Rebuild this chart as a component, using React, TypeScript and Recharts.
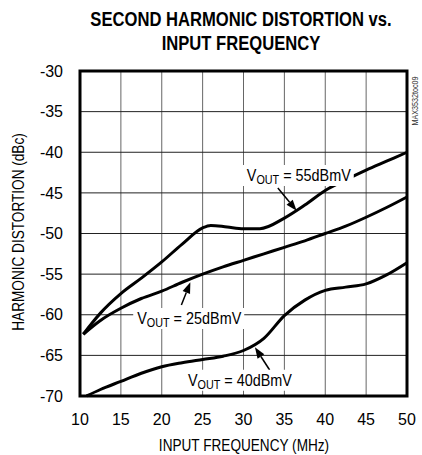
import {
  LineChart,
  Line,
  XAxis,
  YAxis,
  CartesianGrid,
  ReferenceArea,
  ReferenceLine,
  ReferenceDot,
} from 'recharts'

const FONT = "'Liberation Sans', Arial, sans-serif"

const FREQ_TICKS = [10, 15, 20, 25, 30, 35, 40, 45, 50]
const HD_TICKS = [-70, -65, -60, -55, -50, -45, -40, -35, -30]

// VOUT = 55dBmV
const FREQ_55 = [10.4, 12.5, 15, 17.5, 20, 22.5, 25, 26, 28, 30, 32, 35, 37.5, 40, 42.5, 45, 47.5, 50]
const HD2_55 = [-62.4, -59.8, -57.4, -55.5, -53.5, -51.3, -49.3, -49.0, -49.2, -49.4, -49.4, -48.1, -46.5, -44.7, -43.4, -42.2, -41.1, -40.0]

// VOUT = 25dBmV
const FREQ_25 = [10.4, 12.5, 15, 17.5, 20, 22.5, 25, 27.5, 30, 32.5, 35, 37.5, 40, 42.5, 45, 47.5, 50]
const HD2_25 = [-62.4, -60.7, -59.2, -58.0, -57.1, -56.0, -55.0, -54.1, -53.3, -52.5, -51.7, -50.9, -50.0, -49.1, -48.0, -46.8, -45.5]

// VOUT = 40dBmV
const FREQ_40 = [10.8, 12.5, 15, 17.5, 20, 22.5, 25, 27.5, 30, 32.5, 35, 37.5, 40, 42.5, 45, 47.5, 50]
const HD2_40 = [-70.0, -69.2, -68.2, -67.2, -66.4, -65.9, -65.5, -65.1, -64.4, -62.9, -60.1, -58.2, -57.0, -56.6, -56.2, -55.1, -53.6]

const LEVELS = ['55dBmV', '25dBmV', '40dBmV']
// label anchor (left edge, middle) in MHz / dBc
const LABEL_F = [30.4, 17.0, 23.2]
const LABEL_HD = [-42.8, -60.4, -68.0]
// arrow tail and head in MHz / dBc
const ARROW_F0 = [34.2, 22.4, 33.2]
const ARROW_HD0 = [-44.4, -58.8, -66.8]
const ARROW_F1 = [36.5, 23.5, 31.4]
const ARROW_HD1 = [-47.2, -56.0, -64.0]

const toPoints = (f: number[], hd: number[]) => f.map((x, i) => ({ f: x, hd: hd[i] }))

const series = [toPoints(FREQ_55, HD2_55), toPoints(FREQ_25, HD2_25), toPoints(FREQ_40, HD2_40)]

function VoutLabel(props: any, level: string) {
  const { cx, cy } = props
  if (cx == null || cy == null) return <g />
  return (
    <g>
      <rect x={cx - 4} y={cy - 10} width={111} height={21} fill="#fff" />
      <g transform={`translate(${cx} ${cy + 6}) scale(0.9 1)`}>
        <text x={0} y={0} fontFamily={FONT} fontSize={16} fill="#000">
          V
          <tspan fontSize={12} dy={3}>OUT</tspan>
          <tspan dy={-3}>{` = ${level}`}</tspan>
        </text>
      </g>
    </g>
  )
}

function Arrow(props: any) {
  const { x1, y1, x2, y2 } = props
  if ([x1, y1, x2, y2].some((v) => v == null || isNaN(v))) return <g />
  const ang = Math.atan2(y2 - y1, x2 - x1)
  const len = 11
  const w = 4
  const bx = x2 - len * Math.cos(ang)
  const by = y2 - len * Math.sin(ang)
  const px = -Math.sin(ang) * w
  const py = Math.cos(ang) * w
  return (
    <g>
      <line x1={x1} y1={y1} x2={bx} y2={by} stroke="#000" strokeWidth={1.5} />
      <polygon points={`${x2},${y2} ${bx + px},${by + py} ${bx - px},${by - py}`} fill="#000" />
    </g>
  )
}

const textBox = (cx: number, cy: number, rot: number, sx: number): React.CSSProperties => ({
  position: 'absolute',
  left: cx,
  top: cy,
  transform: `translate(-50%, -50%) rotate(${rot}deg) scaleX(${sx})`,
  whiteSpace: 'nowrap',
})

export default function App() {
  return (
    <div
      style={{
        position: 'absolute',
        left: 0,
        top: 0,
        width: 422,
        height: 455,
        background: '#fff',
        fontFamily: FONT,
        color: '#000',
        overflow: 'hidden',
      }}
    >
      <div style={{ ...textBox(241, 31, 0, 0.83), textAlign: 'center', fontWeight: 'bold', fontSize: 20, lineHeight: '24px' }}>
        SECOND HARMONIC DISTORTION vs.
        <br />
        INPUT FREQUENCY
      </div>
      <div style={{ ...textBox(19, 232, -90, 0.85), fontSize: 16 }}>HARMONIC DISTORTION (dBc)</div>
      <div style={{ ...textBox(244, 446, 0, 0.85), fontSize: 16 }}>INPUT FREQUENCY (MHz)</div>
      <div style={{ ...textBox(415, 101, -90, 0.8), fontSize: 9, color: '#333' }}>MAX3532toc09</div>
      <LineChart
        width={422}
        height={455}
        margin={{ top: 71, right: 15, bottom: 0, left: 0 }}
        style={{ position: 'absolute', left: 0, top: 0 }}
      >
        <CartesianGrid horizontal={false} stroke="#666" strokeWidth={1} />
        <CartesianGrid vertical={false} stroke="#222" strokeWidth={1} />
        <XAxis
          dataKey="f"
          type="number"
          domain={[10, 50]}
          ticks={FREQ_TICKS}
          allowDuplicatedCategory={false}
          height={59}
          axisLine={false}
          tickLine={false}
          tickSize={0}
          tickMargin={18}
          tick={{ fill: '#000', fontSize: 16, fontFamily: FONT }}
        />
        <YAxis
          type="number"
          domain={[-70, -30]}
          ticks={HD_TICKS}
          width={80}
          axisLine={false}
          tickLine={false}
          tickSize={0}
          tickMargin={17}
          tick={{ fill: '#000', fontSize: 16, fontFamily: FONT }}
        />
        {LEVELS.map((level, i) => (
          <ReferenceDot
            key={`lbl-${level}`}
            x={LABEL_F[i]}
            y={LABEL_HD[i]}
            r={0}
            shape={(p: any) => VoutLabel(p, level)}
          />
        ))}
        {LEVELS.map((level, i) => (
          <ReferenceLine
            key={`arr-${level}`}
            segment={[
              { x: ARROW_F0[i], y: ARROW_HD0[i] },
              { x: ARROW_F1[i], y: ARROW_HD1[i] },
            ]}
            shape={Arrow}
          />
        ))}
        <ReferenceArea
          x1={10}
          x2={50}
          y1={-70}
          y2={-30}
          fill="none"
          fillOpacity={0}
          stroke="#000"
          strokeWidth={3}
        />
        {series.map((pts, i) => (
          <Line
            key={LEVELS[i]}
            data={pts}
            dataKey="hd"
            type="monotone"
            stroke="#000"
            strokeWidth={3}
            dot={false}
            isAnimationActive={false}
          />
        ))}
      </LineChart>
    </div>
  )
}
